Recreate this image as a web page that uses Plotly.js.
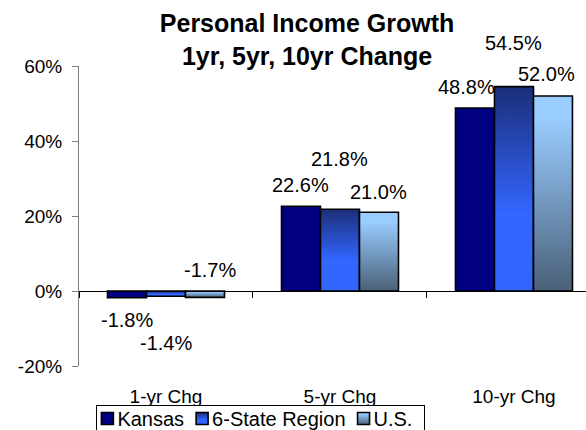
<!DOCTYPE html>
<html><head><meta charset="utf-8">
<script src="https://cdn.plot.ly/plotly-3.0.1.min.js"></script>
<style>html,body{margin:0;padding:0;background:#fff;}#chart{width:586px;height:430px;}</style>
</head><body><div id="chart"></div>
<script>
const categories = ['1-yr Chg', '5-yr Chg', '10-yr Chg'];
const seriesNames = ['Kansas', '6-State Region', 'U.S.'];
const kansas = [-1.8, 22.6, 48.8];
const region = [-1.4, 21.8, 54.5];
const us = [-1.7, 21.0, 52.0];
const yTickVals = [-20, 0, 20, 40, 60];
const yTickText = ['-20%', '0%', '20%', '40%', '60%'];

// label offsets (px), [series][category]
const labelDx = [[0, 0, -8], [0, 0, 0], [5, 0, -6]];
const labelDy = [[-22, 21, 21], [-47, 50, 44], [27, 20, 22]];

const FONT = 'Liberation Sans, Arial, sans-serif';
const series = [kansas, region, us];
const solidColors = ['#000080', '#2A4FD0', '#7FA3C8'];
const gradIds = [null, 'grad6', 'gradUS'];
const BARGAP = 0.3276;
const barW = (1 - BARGAP) / 3;

const traces = series.map((vals, j) => ({
  type: 'bar', name: seriesNames[j], x: categories, y: vals,
  marker: {color: solidColors[j], line: {color: '#000', width: 1.6}},
  textposition: 'none', hoverinfo: 'skip', cliponaxis: false
}));
traces.push({type: 'scatter', mode: 'markers', x: categories, y: [null, null, null],
  xaxis: 'x2', yaxis: 'y', showlegend: false, hoverinfo: 'skip'});

const annotations = [];
series.forEach((vals, j) => vals.forEach((v, i) => {
  annotations.push({
    xref: 'x', yref: 'y', x: i + (j - 1) * barW, y: v,
    text: v.toFixed(1) + '%', showarrow: false,
    xanchor: 'center', yanchor: 'middle',
    xshift: labelDx[j][i], yshift: labelDy[j][i],
    font: {family: FONT, size: 20, color: '#000'}
  });
}));

const xr = [-0.5, 2.414];
const layout = {
  width: 586, height: 430,
  margin: {l: 79, r: 0, t: 66, b: 64, autoexpand: false},
  paper_bgcolor: '#fff', plot_bgcolor: '#fff',
  font: {family: FONT, size: 19, color: '#000'},
  title: {text: 'Personal Income Growth<br>1yr, 5yr, 10yr Change',
    font: {family: FONT, size: 25, weight: 700, color: '#000'},
    xref: 'container', x: 0.524, xanchor: 'center',
    yref: 'container', y: 0.925, yanchor: 'top'},
  barmode: 'group', bargap: BARGAP, bargroupgap: 0,
  xaxis: {type: 'category', categoryorder: 'array', categoryarray: categories,
    range: xr, showline: false, showgrid: false, zeroline: false,
    ticks: 'outside', ticklen: 13, tickcolor: 'rgba(0,0,0,0)',
    tickfont: {family: FONT, size: 19, color: '#000'}},
  xaxis2: {type: 'category', categoryorder: 'array', categoryarray: categories,
    overlaying: 'x', anchor: 'free', position: 0.25, range: xr,
    showline: true, linecolor: '#000', linewidth: 1,
    ticks: 'outside', tickson: 'boundaries', ticklen: 6, tickcolor: '#000', tickwidth: 1,
    showticklabels: false, showgrid: false, zeroline: false},
  yaxis: {range: [-20, 60], tickvals: yTickVals, ticktext: yTickText,
    showline: true, linecolor: '#808080', linewidth: 1,
    ticks: 'outside', ticklen: 6, tickcolor: '#808080', tickwidth: 1,
    showgrid: false, zeroline: false, ticklabelstandoff: 6,
    tickfont: {family: FONT, size: 19, color: '#000'}},
  legend: {orientation: 'h', x: 0.0343, xanchor: 'left', y: -0.13, yanchor: 'top',
    bgcolor: '#fff', bordercolor: '#000', borderwidth: 1,
    font: {family: FONT, size: 20, color: '#000'}, itemwidth: 30},
  annotations: annotations,
  showlegend: true
};

Plotly.newPlot('chart', traces, layout, {displayModeBar: false, staticPlot: true}).then(gd => {
  const svg = gd.querySelector('svg.main-svg');
  const ns = 'http://www.w3.org/2000/svg';
  let defs = svg.querySelector('defs');
  if (!defs) { defs = document.createElementNS(ns, 'defs'); svg.insertBefore(defs, svg.firstChild); }
  const grads = {
    grad6: [[0, '#1B2E78'], [0.62, '#3366FF'], [1, '#3366FF']],
    gradUS: [[0, '#9ACDFF'], [0.12, '#99CCFF'], [1, '#4A6078']]
  };
  Object.keys(grads).forEach(id => {
    const lg = document.createElementNS(ns, 'linearGradient');
    lg.setAttribute('id', id);
    lg.setAttribute('x1', '0'); lg.setAttribute('y1', '0');
    lg.setAttribute('x2', '0'); lg.setAttribute('y2', '1');
    grads[id].forEach(s => {
      const st = document.createElementNS(ns, 'stop');
      st.setAttribute('offset', s[0]);
      st.setAttribute('stop-color', s[1]);
      lg.appendChild(st);
    });
    defs.appendChild(lg);
  });
  gd.querySelectorAll('.barlayer .trace').forEach((tr, j) => {
    if (!gradIds[j]) return;
    tr.querySelectorAll('path').forEach(p => { p.style.fill = 'url(#' + gradIds[j] + ')'; });
  });
  // compact legend spacing (swatch close to its text)
  const legendG = gd.querySelector('g.legend');
  if (legendG) {
    const items = Array.from(legendG.querySelectorAll('g.traces'));
    let cursor = 5; // swatch left edge inside legend box
    const itemGap = 12;
    items.forEach((it, j) => {
      const tf = it.getAttribute('transform') || '';
      const m = /translate\(\s*([-\d.e]+)[\s,]+([-\d.e]+)\s*\)/.exec(tf);
      const oy = m ? parseFloat(m[2]) : 0;
      const gx = cursor - 14;
      it.setAttribute('transform', 'translate(' + gx + ',' + (oy - 7) + ')');
      const txt = it.querySelector('text.legendtext');
      const tx = 30;
      if (txt) txt.setAttribute('x', tx);
      const w = txt ? txt.getComputedTextLength() : 0;
      if (gradIds[j]) it.querySelectorAll('.legendpoints path').forEach(p => { p.style.fill = 'url(#' + gradIds[j] + ')'; });
      cursor = gx + 14 + 16 + w + itemGap;
    });
    const bg = legendG.querySelector('rect.bg');
    if (bg) bg.setAttribute('width', cursor - itemGap + 12);
  }
});
</script>
</body></html>
